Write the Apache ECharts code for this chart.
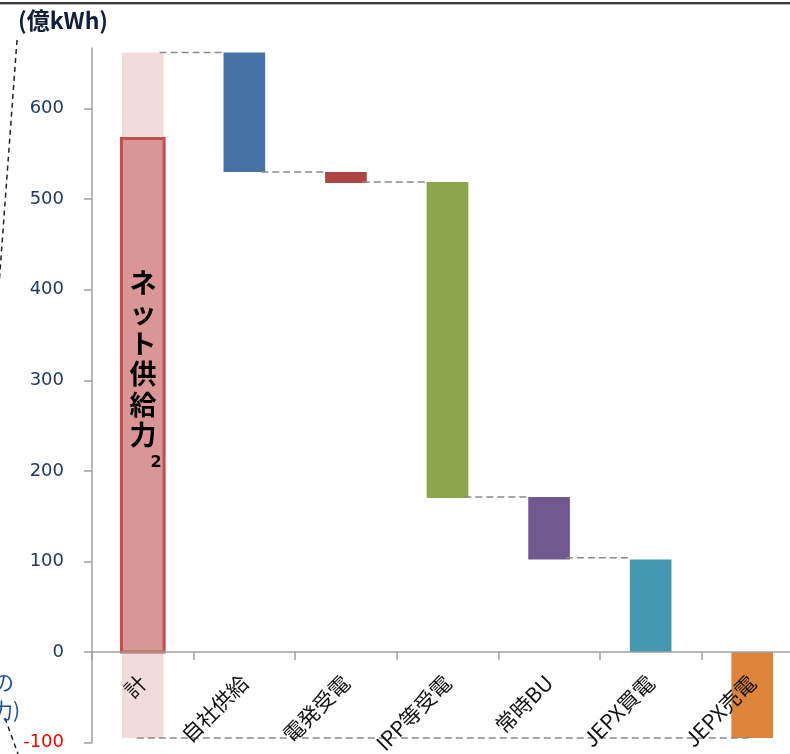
<!DOCTYPE html>
<html>
<head>
<meta charset="utf-8">
<script src="https://cdn.jsdelivr.net/npm/echarts@6/dist/echarts.min.js"></script>
<style>
  html, body { margin: 0; padding: 0; background: #fff; }
  #chart { width: 790px; height: 754px; }
</style>
</head>
<body>
<div id="chart"></div>
<script>
// Supply breakdown (億kWh), drawn as a waterfall
const categories = ['計', '自社供給', '電発受電', 'IPP等受電', '常時BU', 'JEPX買電', 'JEPX売電'];
// floating bar ranges per category (low, high)
const barLow  = [-95, 530, 518, 170, 102, 0, -95];
const barHigh = [662, 662, 530, 519, 171, 102, 0];
// net supply shown inside the total column
const netSupply = 567;
// dashed step connectors between neighbouring columns
const stepLevels = [662, 530, 519, 171, 104];
// dashed baseline for the sold amount, from the total column to the last one
const sellLevel = -95;
const yTickValues = [-100, 0, 100, 200, 300, 400, 500, 600];
const yMin = -100;
const yMax = 667;

const barColors = ['#f2dcdb', '#4672a8', '#ad4543', '#8ba64c', '#70598f', '#4499b0', '#dd843b'];
const BAR_RATIO = 0.41;

const GRID_TOP = 48;
const GRID_BOTTOM = 11.5;
const CHART_H = 754;
// the category axis sits on the zero line
const plotH = CHART_H - GRID_TOP - GRID_BOTTOM;
const zeroOffset = plotH * (0 - yMin) / (yMax - yMin);

const chart = echarts.init(document.getElementById('chart'));

const option = {
  animation: false,
  grid: { left: 92, top: GRID_TOP, right: -13, bottom: GRID_BOTTOM, containLabel: false, outerBoundsMode: 'none' },
  xAxis: {
    type: 'category',
    data: categories,
    z: 10,
    position: 'bottom',
    offset: -zeroOffset,
    axisLine: { onZero: false, lineStyle: { color: '#a0a0a0', width: 1.5 } },
    axisTick: { show: true, length: 8, lineStyle: { color: '#a0a0a0', width: 1.5 } },
    axisLabel: {
      interval: 0,
      rotate: 45,
      margin: 27,
      fontSize: 21,
      color: '#111',
      fontFamily: 'Noto Sans CJK JP'
    },
    splitLine: { show: false }
  },
  yAxis: {
    type: 'value',
    min: yMin,
    max: yMax,
    axisLine: { show: true, onZero: false, lineStyle: { color: '#a0a0a0', width: 1.5 } },
    axisTick: { show: true, length: 8, customValues: yTickValues, lineStyle: { color: '#a0a0a0', width: 1.5 } },
    axisLabel: {
      customValues: yTickValues,
      margin: 28,
      fontSize: 18,
      fontFamily: 'DejaVu Sans',
      color: function (v) { return v < 0 ? '#ff0000' : '#1f3a60'; }
    },
    splitLine: { show: false }
  },
  series: [
    {
      // floating columns
      type: 'custom',
      z: 2,
      data: categories.map((c, i) => [i, barLow[i], barHigh[i]]),
      renderItem: function (params, api) {
        const i = api.value(0);
        const top = api.coord([i, api.value(2)]);
        const bot = api.coord([i, api.value(1)]);
        const w = api.size([1, 0])[0] * BAR_RATIO;
        return {
          type: 'rect',
          shape: { x: top[0] - w / 2, y: top[1], width: w, height: bot[1] - top[1] },
          style: { fill: barColors[i] }
        };
      }
    },
    {
      // net supply column inside the total
      type: 'custom',
      z: 3,
      data: [[0, 0, netSupply]],
      renderItem: function (params, api) {
        const i = api.value(0);
        const top = api.coord([i, api.value(2)]);
        const bot = api.coord([i, api.value(1)]);
        const w = api.size([1, 0])[0] * 0.42;
        return {
          type: 'rect',
          shape: { x: top[0] - w / 2, y: top[1], width: w, height: bot[1] - top[1] },
          style: { fill: '#d99694', stroke: '#c0504d', lineWidth: 3 }
        };
      }
    },
    {
      // step connectors
      type: 'custom',
      z: 4,
      data: stepLevels.map((v, i) => [i, v]),
      renderItem: function (params, api) {
        const i = api.value(0);
        const a = api.coord([i, api.value(1)]);
        const b = api.coord([i + 1, api.value(1)]);
        const w = api.size([1, 0])[0] * BAR_RATIO;
        return {
          type: 'line',
          shape: { x1: a[0] + w / 2 - 4, y1: a[1], x2: b[0] - w / 2, y2: b[1] },
          style: { stroke: '#8a8a8a', lineWidth: 1.5, lineDash: [7, 4] }
        };
      }
    },
    {
      // sold amount baseline
      type: 'custom',
      z: 4,
      data: [[0, categories.length - 1, sellLevel]],
      renderItem: function (params, api) {
        const a = api.coord([api.value(0), api.value(2)]);
        const b = api.coord([api.value(1), api.value(2)]);
        return {
          type: 'line',
          shape: { x1: a[0] - 6, y1: a[1], x2: b[0], y2: b[1] },
          style: { stroke: '#8a8a8a', lineWidth: 1.5, lineDash: [7, 4] }
        };
      }
    }
  ],
  graphic: [
    { type: 'rect', left: 0, top: 2, shape: { width: 790, height: 2 }, style: { fill: '#3c3c3c' } },
    { type: 'rect', left: 0, top: 4, shape: { width: 790, height: 1 }, style: { fill: '#b0b0b0' } },
    {
      type: 'text', left: 18, top: 9,
      style: { text: '(億kWh)', fontSize: 23, fontWeight: 'bold', fill: '#10203a', fontFamily: 'Noto Sans CJK JP' }
    },
    {
      type: 'line', shape: { x1: 17, y1: 40, x2: -1, y2: 285 },
      style: { stroke: '#222', lineWidth: 1.5, lineDash: [5, 4] }
    },
    {
      type: 'line', shape: { x1: 5, y1: 718, x2: 18, y2: 754 },
      style: { stroke: '#222', lineWidth: 1.5, lineDash: [5, 4] }
    },
    {
      type: 'text', x: 14, y: 682,
      style: { text: 'の', fontSize: 21, fill: '#1f4e8c', align: 'right', verticalAlign: 'middle', fontFamily: 'Noto Sans CJK JP' }
    },
    {
      type: 'text', x: 20, y: 710,
      style: { text: '力)', fontSize: 21, fill: '#1f4e8c', align: 'right', verticalAlign: 'middle', fontFamily: 'Noto Sans CJK JP' }
    },
    {
      type: 'text', x: 143, y: 267, z: 20,
      style: {
        text: 'ネ\nッ\nト\n供\n給\n力', fontSize: 27, lineHeight: 30.5, fontWeight: 'bold',
        fill: '#000', align: 'center', verticalAlign: 'top', fontFamily: 'Noto Sans CJK JP'
      }
    },
    {
      type: 'text', x: 156, y: 463, z: 20,
      style: { text: '2', fontSize: 16, fontWeight: 'bold', fill: '#000', align: 'center', verticalAlign: 'middle', fontFamily: 'DejaVu Sans' }
    }
  ]
};

chart.setOption(option);
</script>
</body>
</html>
